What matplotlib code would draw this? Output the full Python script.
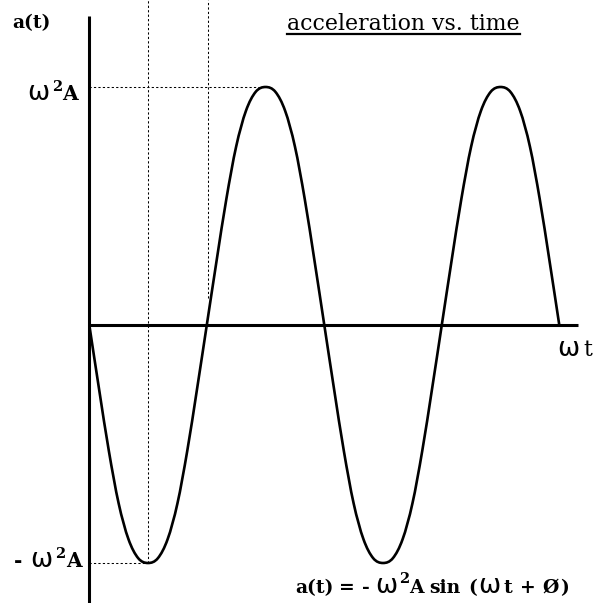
import numpy as np
import matplotlib
matplotlib.use("Agg")
import matplotlib.pyplot as plt
from matplotlib.path import Path
from matplotlib.patches import PathPatch

plt.rcParams["lines.scale_dashes"] = False

# a(t) sampled every 15 degrees of omega*t, from 0 to 4*pi (in units of omega^2 A)
step_deg = 15
accel = [0.00, -0.27, -0.53, -0.75, -0.90, -0.98, -1.00, -0.98, -0.90, -0.75, -0.53, -0.27,
         0.00, 0.27, 0.53, 0.75, 0.90, 0.98, 1.00, 0.98, 0.90, 0.75, 0.53, 0.27,
         0.00, -0.27, -0.53, -0.75, -0.90, -0.98, -1.00, -0.98, -0.90, -0.75, -0.53, -0.27,
         0.00, 0.27, 0.53, 0.75, 0.90, 0.98, 1.00, 0.98, 0.90, 0.75, 0.53, 0.27,
         0.00]
omega_t = np.deg2rad(np.arange(len(accel)) * step_deg)

# guide positions (omega*t)
first_trough = np.pi / 2
first_peak = 3 * np.pi / 2
second_guide = 3.17
amp = 1.0

W, H = 597, 603
X0, Y0 = 89.3, 325.0     # pixel position of the origin
SX, SY = 37.4, 238.0     # pixels per radian / per unit of omega^2 A

fig = plt.figure(figsize=(W / 100, H / 100), dpi=100)
ax = fig.add_axes([0, 0, 1, 1])
ax.axis("off")
ax.set_xlim(-X0 / SX, (W - X0) / SX)
ax.set_ylim(-(H - Y0) / SY, Y0 / SY)
ymin, ymax = ax.get_ylim()

# axes drawn as plain thick lines
ax.plot([0, 0], [ymin, (Y0 - 16) / SY], color="black", lw=2.2, solid_capstyle="butt")
ax.plot([0, (578 - X0) / SX], [0, 0], color="black", lw=2.2, solid_capstyle="butt")

# dotted guides
dot = dict(color="black", lw=0.75, linestyle=(0, (1.6, 1.6)))
ax.plot([first_trough, first_trough], [-amp, ymax], **dot)
ax.plot([second_guide, second_guide], [0.113, ymax], **dot)
ax.plot([0, first_peak], [amp, amp], **dot)
ax.plot([0, first_trough], [-amp, -amp], **dot)


# the acceleration curve: smooth Bezier path through the samples (Catmull-Rom tangents)
def smooth_path(xs, ys):
    p = np.column_stack([xs, ys])
    ext = np.vstack([2 * p[0] - p[1], p, 2 * p[-1] - p[-2]])
    verts = [p[0]]
    codes = [Path.MOVETO]
    for i in range(len(p) - 1):
        p0, p1, p2, p3 = ext[i], ext[i + 1], ext[i + 2], ext[i + 3]
        verts += [p1 + (p2 - p0) / 6, p2 - (p3 - p1) / 6, p2]
        codes += [Path.CURVE4] * 3
    return Path(verts, codes)


ax.add_patch(PathPatch(smooth_path(omega_t, accel), facecolor="none",
                       edgecolor="black", lw=1.9, joinstyle="round", capstyle="butt"))


renderer = fig.canvas.get_renderer()


def put(s, xp, yp, **kw):
    kw.setdefault("ha", "left")
    kw.setdefault("va", "baseline")
    return fig.text(xp / W, 1 - yp / H, s, **kw)


def chain(pieces, x, base):
    """Lay out text pieces left to right: (text, style, raise_px, gap_px)."""
    out = []
    for s, style, rise, gap in pieces:
        x += gap
        t = put(s, x, base - rise, **style)
        bb = t.get_window_extent(renderer)
        out.append(t)
        x = bb.x1
    return out


serif = dict(family="DejaVu Serif", fontsize=15.8)
serif_b = dict(family="DejaVu Serif", fontweight="bold", fontsize=13.5)
sans_w = dict(family="DejaVu Sans", fontsize=19)
sup = dict(family="DejaVu Serif", fontweight="bold", fontsize=10.5)
label_b = dict(family="DejaVu Serif", fontweight="bold", fontsize=14.5)

# y-axis label
put("a(t)", 12, 28.5, family="DejaVu Serif", fontweight="bold", fontsize=13.5)

# title, underlined
title = put("acceleration vs. time", 287, 30, **serif)
bb = title.get_window_extent(renderer)
fig.add_artist(plt.Line2D([bb.x0 / W, bb.x1 / W], [1 - 33.5 / H, 1 - 33.5 / H],
                          color="black", lw=1.6, transform=fig.transFigure))

# level labels
chain([("\u03c9", sans_w, 0, 0), ("2", sup, 9, 3), ("A", label_b, 0, 0)], 27, 100)
chain([("-", label_b, 0, 0), ("\u03c9", sans_w, 0, 8),
       ("2", sup, 9, 3), ("A", label_b, 0, 0)], 14, 567)

# x-axis label
chain([("\u03c9", sans_w, 0, 0), ("t", serif, 0, 4)], 557, 356)

# equation
chain([("a(t)", serif_b, 0, 0), ("=", serif_b, 0, 6), ("-", serif_b, 0, 7),
       ("\u03c9", sans_w, 0, 5), ("2", sup, 10, 2), ("A", serif_b, 0, 0),
       ("sin", serif_b, 0, 5), ("(", serif_b, 0, 8), ("\u03c9", sans_w, 0, 1),
       ("t", serif_b, 0, 4), ("+", serif_b, 0, 7), ("\u00d8", serif_b, 0, 7),
       (")", serif_b, 0, 1)], 295, 593)

fig.savefig("out.png", dpi=100)
